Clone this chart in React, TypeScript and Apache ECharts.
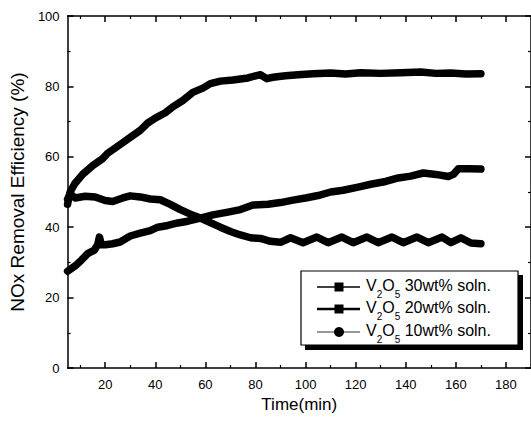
import React, { useEffect, useRef } from "react";
import * as echarts from "echarts";

const seriesNames = ["V2O5 30wt% soln.", "V2O5 20wt% soln.", "V2O5 10wt% soln."];

const time30 = [5, 6, 8, 11, 15, 19, 21, 24, 27, 30, 34, 37, 40, 44, 47, 51, 55, 59, 62, 66, 71, 77, 80, 82, 84.5, 87, 92, 97, 103, 110, 116, 122, 130, 138, 146, 152, 158, 164, 170];
const eff30 = [46.5, 50, 52.5, 55, 57.5, 59.5, 61, 62.5, 64, 65.5, 67.5, 69.6, 71, 72.5, 74.2, 76, 78.3, 79.5, 80.8, 81.5, 81.8, 82.4, 83, 83.3, 82.2, 82.6, 83, 83.3, 83.6, 83.8, 83.5, 83.9, 83.7, 83.9, 84.1, 83.7, 83.8, 83.5, 83.6];

const time20 = [5, 6, 8, 12, 16, 20, 23, 27, 30, 34, 38, 42, 46, 50, 54, 58, 62, 66, 70, 74, 78, 82, 86, 90, 94, 99, 104.5, 109, 114.5, 119, 124.5, 129, 134.5, 139, 144.5, 149, 154.5, 158, 162, 166, 170];
const eff20 = [48, 49.5, 48.3, 48.8, 48.6, 47.6, 47.3, 48.3, 48.9, 48.6, 48, 47.8, 46.5, 45, 43.7, 42.6, 41.3, 40, 38.8, 37.8, 37, 36.8, 36, 35.7, 37, 35.6, 37.2, 35.6, 37.2, 35.6, 37.2, 35.6, 37.2, 35.6, 37.2, 35.6, 37.2, 35.6, 37, 35.5, 35.3];

const time10 = [5, 8, 10.6, 13, 15.7, 17, 17.7, 18.5, 20, 23, 26, 30, 34, 38, 41, 45, 49, 53, 58, 63, 69, 74, 79, 85, 90, 95, 100, 105, 110, 115, 121, 126, 132, 137, 142, 147, 152, 157, 159, 161, 165, 170];
const eff10 = [27.5, 29, 30.7, 32.5, 33.5, 35, 37.2, 35, 35, 35.3, 35.8, 37.5, 38.3, 39, 40, 40.5, 41.2, 41.7, 42.6, 43.5, 44.3, 45, 46.3, 46.5, 47, 47.7, 48.3, 49, 50, 50.5, 51.4, 52.2, 53, 54, 54.5, 55.4, 55, 54.4, 55, 56.6, 56.6, 56.5];

const xMajorTicks = [20, 40, 60, 80, 100, 120, 140, 160, 180];
const xMinorTicks = [10, 30, 50, 70, 90, 110, 130, 150, 170, 190];

const FONT = "Liberation Sans, Arial, Helvetica, sans-serif";

function pairs(xs: number[], ys: number[]) {
  return xs.map((x, i) => [x, ys[i]]);
}

export default function App() {
  const ref = useRef<HTMLDivElement>(null);
  useEffect(() => {
    if (!ref.current) return;
    const chart = echarts.init(ref.current, undefined, { renderer: "svg" });
    const axisLineStyle = { color: "#000", width: 1.5 };
    const baseX = {
      type: "value" as const,
      min: 5,
      max: 190,
      splitLine: { show: false },
    };
    const legendRows = [287, 309, 332];
    const legendGraphics: any[] = [
      { type: "rect", shape: { x: 305, y: 275, width: 218, height: 75 }, style: { fill: "#000" } },
      { type: "rect", shape: { x: 301, y: 271, width: 217, height: 74 }, style: { fill: "#fff", stroke: "#000", lineWidth: 1.2 } },
      { type: "line", shape: { x1: 317, y1: legendRows[0], x2: 360, y2: legendRows[0] }, style: { stroke: "#000", lineWidth: 1.5 } },
      { type: "rect", shape: { x: 334.5, y: legendRows[0] - 4.5, width: 9, height: 9 }, style: { fill: "#000" } },
      { type: "line", shape: { x1: 317, y1: legendRows[1], x2: 360, y2: legendRows[1] }, style: { stroke: "#000", lineWidth: 2.5 } },
      { type: "rect", shape: { x: 334.5, y: legendRows[1] - 4.5, width: 9, height: 9 }, style: { fill: "#000" } },
      { type: "line", shape: { x1: 317, y1: legendRows[2], x2: 360, y2: legendRows[2] }, style: { stroke: "#333", lineWidth: 1 } },
      { type: "circle", shape: { cx: 339, cy: legendRows[2], r: 5 }, style: { fill: "#000" } },
    ];
    const legendTexts = ["30wt% soln.", "20wt% soln.", "10wt% soln."];
    legendTexts.forEach((t, i) => {
      legendGraphics.push({
        type: "text",
        x: 366,
        y: legendRows[i] - 10,
        style: {
          text: "{m|V}{s|2}{m|O}{s|5}{m| " + t + "}",
          rich: {
            m: { fontSize: 16, fontFamily: FONT, fill: "#000", verticalAlign: "top", lineHeight: 23, padding: [0, 0, 7, 0] },
            s: { fontSize: 10, fontFamily: FONT, fill: "#000", verticalAlign: "top", lineHeight: 23, padding: [12, 0, 0, 0] },
          },
        },
      });
    });

    chart.setOption({
      animation: false,
      backgroundColor: "#fff",
      grid: { left: 66, top: 16, right: 0, bottom: 53, containLabel: false },
      xAxis: [
        {
          ...baseX,
          position: "bottom",
          name: "Time(min)",
          nameLocation: "middle",
          nameGap: 24,
          nameTextStyle: { fontSize: 17, fontFamily: FONT, color: "#000" },
          axisLine: { show: true, lineStyle: axisLineStyle },
          axisTick: { show: true, inside: true, length: 6, customValues: xMajorTicks, lineStyle: { color: "#000", width: 1.5 } },
          axisLabel: { show: true, customValues: xMajorTicks, margin: 10, fontSize: 13, fontFamily: FONT, color: "#000" },
        },
        {
          ...baseX,
          position: "bottom",
          axisLine: { show: false },
          axisTick: { show: true, inside: true, length: 3, customValues: xMinorTicks, lineStyle: { color: "#000", width: 1.2 } },
          axisLabel: { show: false },
        },
        {
          ...baseX,
          position: "top",
          axisLine: { show: true, lineStyle: axisLineStyle },
          axisTick: { show: true, inside: true, length: 6, customValues: xMajorTicks, lineStyle: { color: "#000", width: 1.5 } },
          axisLabel: { show: false },
        },
        {
          ...baseX,
          position: "top",
          axisLine: { show: false },
          axisTick: { show: true, inside: true, length: 3, customValues: xMinorTicks, lineStyle: { color: "#000", width: 1.2 } },
          axisLabel: { show: false },
        },
      ],
      yAxis: [
        {
          type: "value",
          min: 0,
          max: 100,
          interval: 20,
          position: "left",
          name: "NOx Removal Efficiency (%)",
          nameLocation: "middle",
          nameGap: 32,
          nameTextStyle: { fontSize: 19, fontFamily: FONT, color: "#000" },
          axisLine: { show: true, lineStyle: axisLineStyle },
          axisTick: { show: true, inside: true, length: 6, lineStyle: { color: "#000", width: 1.5 } },
          minorTick: { show: true, splitNumber: 2, length: 3, lineStyle: { color: "#000", width: 1.2 } },
          axisLabel: { margin: 8, fontSize: 13, fontFamily: FONT, color: "#000" },
          splitLine: { show: false },
        },
        {
          type: "value",
          min: 0,
          max: 100,
          interval: 20,
          position: "right",
          axisLine: { show: true, lineStyle: axisLineStyle },
          axisTick: { show: true, inside: true, length: 6, lineStyle: { color: "#000", width: 1.5 } },
          minorTick: { show: true, splitNumber: 2, length: 3, lineStyle: { color: "#000", width: 1.2 } },
          axisLabel: { show: false },
          splitLine: { show: false },
        },
      ],
      series: [
        { name: seriesNames[0], type: "line", data: pairs(time30, eff30), showSymbol: false, lineStyle: { color: "#000", width: 7.5, join: "round", cap: "round" } },
        { name: seriesNames[1], type: "line", data: pairs(time20, eff20), showSymbol: false, lineStyle: { color: "#000", width: 7.5, join: "round", cap: "round" } },
        { name: seriesNames[2], type: "line", data: pairs(time10, eff10), showSymbol: false, lineStyle: { color: "#000", width: 7.5, join: "round", cap: "round" } },
      ],
      graphic: legendGraphics,
    });
    return () => chart.dispose();
  }, []);
  return <div ref={ref} style={{ position: "fixed", left: 0, top: 0, width: 531, height: 421 }} />;
}
